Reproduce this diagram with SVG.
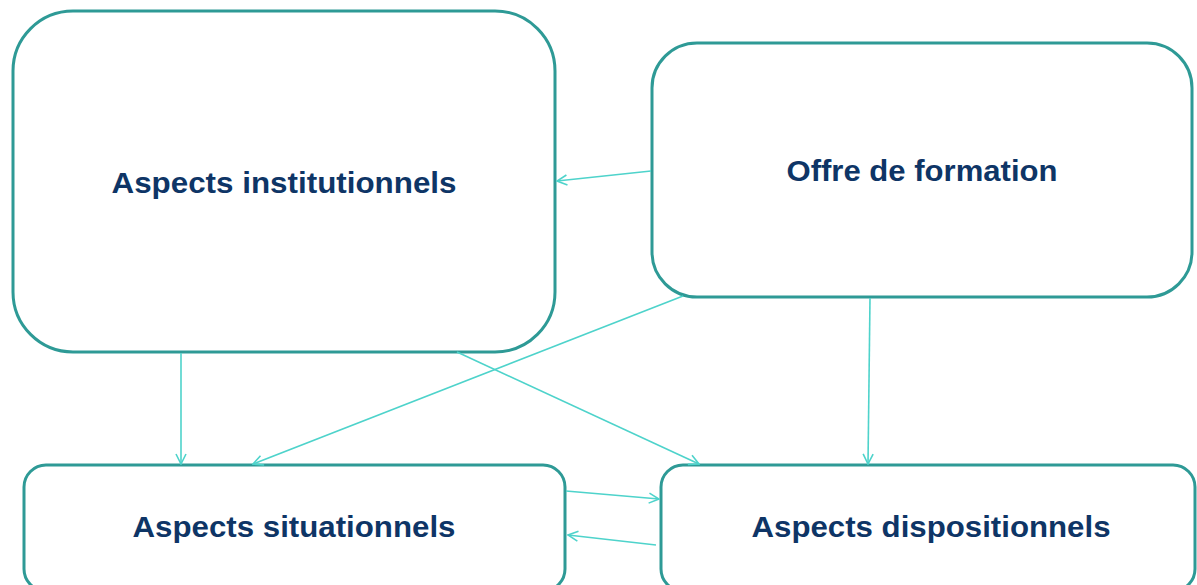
<svg xmlns="http://www.w3.org/2000/svg" width="1197" height="585" viewBox="0 0 1197 585">
<style>
.box{fill:#fff;stroke:#2E9A96;stroke-width:3}
.lbl{font-family:"Liberation Sans",Arial,sans-serif;font-weight:bold;font-size:29px;fill:#0E3566;text-anchor:middle}
.con{stroke:#4ED3CB;stroke-width:1.6;fill:none;marker-end:url(#ah)}
</style>
<defs>
<marker id="ah" viewBox="0 0 12 12" refX="11" refY="6" markerWidth="12" markerHeight="12" markerUnits="userSpaceOnUse" orient="auto">
<path d="M1,1 L11,6 L1,11" fill="none" stroke="#4ED3CB" stroke-width="1.6"/>
</marker>
</defs>
<rect width="1197" height="585" fill="#fff"/>
<g id="n1"><rect class="box" x="13" y="11" width="542" height="341" rx="60"/><text class="lbl" x="284" y="193" textLength="345" lengthAdjust="spacingAndGlyphs">Aspects institutionnels</text></g>
<g id="n2"><rect class="box" x="652" y="43" width="540" height="254" rx="45"/><text class="lbl" x="922" y="181" textLength="271" lengthAdjust="spacingAndGlyphs">Offre de formation</text></g>
<g id="n3"><rect class="box" x="24" y="465" width="541" height="126" rx="22"/><text class="lbl" x="294" y="537" textLength="323" lengthAdjust="spacingAndGlyphs">Aspects situationnels</text></g>
<g id="n4"><rect class="box" x="661" y="465" width="534" height="126" rx="22"/><text class="lbl" x="931" y="537" textLength="359" lengthAdjust="spacingAndGlyphs">Aspects dispositionnels</text></g>
<g id="connectors">
<line class="con" x1="651" y1="171" x2="557" y2="181"/>
<line class="con" x1="181" y1="353" x2="181" y2="464"/>
<line class="con" x1="683" y1="296" x2="253" y2="464"/>
<line class="con" x1="457" y1="352" x2="699" y2="464"/>
<line class="con" x1="870" y1="298" x2="868" y2="464"/>
<line class="con" x1="566" y1="491" x2="659" y2="499"/>
<line class="con" x1="656" y1="545" x2="568" y2="535"/>
</g>
</svg>
